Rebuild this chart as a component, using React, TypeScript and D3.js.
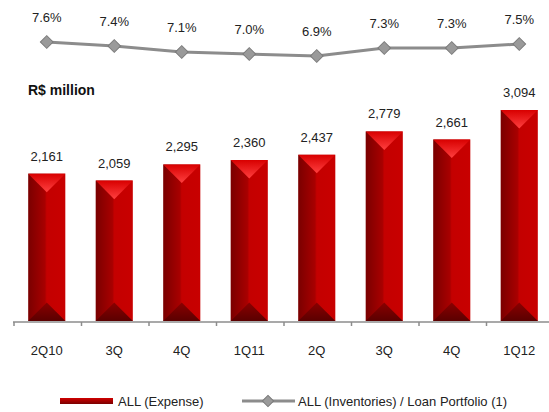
import * as d3 from "d3";

const categories = ["2Q10", "3Q", "4Q", "1Q11", "2Q", "3Q", "4Q", "1Q12"];
const expense = [2161, 2059, 2295, 2360, 2437, 2779, 2661, 3094];
const ratio = [7.6, 7.4, 7.1, 7.0, 6.9, 7.3, 7.3, 7.5];

const App = () => {
  const width = 549,
    height = 412,
    baseline = 321;
  const font = "Arial, 'Liberation Sans', sans-serif";

  const keys = categories.map((c, i) => i);
  const x = d3
    .scaleBand<number>()
    .domain(keys)
    .range([13, 553])
    .paddingInner(0.45)
    .paddingOuter(0.225);
  const xt = d3.scaleBand<number>().domain(keys).range([13, 553]);
  const y = d3.scaleLinear([0, 3094], [baseline, 110]);
  const yl = d3.scaleLinear([6.9, 7.6], [56, 42]);
  const line = d3
    .line<number>()
    .x((d, i) => xt(i)! + xt.bandwidth() / 2)
    .y((d) => yl(d));

  const fmt = d3.format(",");

  return (
    <svg
      width={width}
      height={height}
      style={{ position: "absolute", left: 0, top: 0, background: "#fff" }}
      fontFamily={font}
    >
      <defs>
        <linearGradient id="body" x1="0" x2="1" y1="0" y2="0">
          <stop offset="0" stopColor="#7a0000" />
          <stop offset="0.45" stopColor="#a80000" />
          <stop offset="0.5" stopColor="#c40000" />
          <stop offset="1" stopColor="#c80000" />
        </linearGradient>
        <linearGradient id="topTri" x1="0" x2="0" y1="0" y2="1">
          <stop offset="0" stopColor="#d80000" />
          <stop offset="1" stopColor="#ff4040" />
        </linearGradient>
        <linearGradient id="botTri" x1="0" x2="0" y1="0" y2="1">
          <stop offset="0" stopColor="#8a0000" />
          <stop offset="1" stopColor="#5a0000" />
        </linearGradient>
        <linearGradient id="legSw" x1="0" x2="0" y1="0" y2="1">
          <stop offset="0" stopColor="#d00000" />
          <stop offset="1" stopColor="#7a0000" />
        </linearGradient>
      </defs>

      {/* line series */}
      <path d={line(ratio)!} fill="none" stroke="#8c8c8c" strokeWidth={3} />
      {ratio.map((d, i) => {
        const cx = xt(i)! + xt.bandwidth() / 2;
        const cy = yl(d);
        return (
          <g key={i}>
            <rect
              x={cx - 4.5}
              y={cy - 4.5}
              width={9}
              height={9}
              transform={`rotate(45 ${cx} ${cy})`}
              fill="#9a9a9a"
              stroke="#7a7a7a"
              strokeWidth={1}
            />
            <text x={cx} y={cy - 20} textAnchor="middle" fontSize={13} fill="#222">
              {d.toFixed(1)}%
            </text>
          </g>
        );
      })}

      <text x={28} y={95} fontSize={14} fontWeight="bold" fill="#111">
        R$ million
      </text>

      {/* bars */}
      {expense.map((v, i) => {
        const x0 = x(i)!;
        const w = x.bandwidth();
        const x1 = x0 + w;
        const top = y(v);
        const cx = x0 + w / 2;
        const d = w / 2;
        return (
          <g key={i}>
            <rect x={x0} y={top} width={w} height={baseline - top} fill="url(#body)" />
            <polygon points={`${x0},${top} ${x1},${top} ${cx},${top + d}`} fill="url(#topTri)" />
            <polygon
              points={`${x0},${baseline} ${x1},${baseline} ${cx},${baseline - d}`}
              fill="url(#botTri)"
            />
            <text x={cx} y={top - 13} textAnchor="middle" fontSize={13} fill="#222">
              {fmt(v)}
            </text>
          </g>
        );
      })}

      {/* axis */}
      <line x1={13} x2={549} y1={baseline + 1} y2={baseline + 1} stroke="#8c8c8c" strokeWidth={1.5} />
      {keys.map((i) => (
        <line
          key={i}
          x1={xt(i)! + 1}
          x2={xt(i)! + 1}
          y1={baseline + 1}
          y2={baseline + 5}
          stroke="#8c8c8c"
          strokeWidth={1.5}
        />
      ))}
      {categories.map((c, i) => (
        <text
          key={i}
          x={xt(i)! + xt.bandwidth() / 2}
          y={355}
          textAnchor="middle"
          fontSize={13}
          fill="#222"
        >
          {c}
        </text>
      ))}

      {/* legend */}
      <rect x={60} y={398} width={53} height={6} fill="url(#legSw)" />
      <text x={118} y={406} fontSize={13} fill="#222">
        ALL (Expense)
      </text>
      <line x1={242} x2={295} y1={401} y2={401} stroke="#8c8c8c" strokeWidth={3} />
      <rect
        x={264}
        y={397}
        width={8}
        height={8}
        transform="rotate(45 268 401)"
        fill="#9a9a9a"
        stroke="#7a7a7a"
      />
      <text x={298} y={406} fontSize={13} fill="#222">
        ALL (Inventories) / Loan Portfolio (1)
      </text>
    </svg>
  );
};

export default App;
